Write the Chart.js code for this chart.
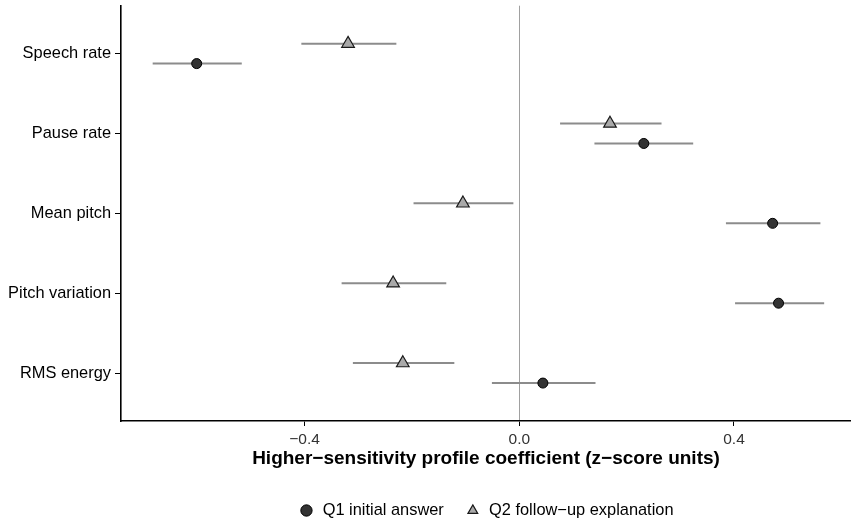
<!DOCTYPE html>
<html>
<head>
<meta charset="utf-8">
<script src="https://cdn.jsdelivr.net/npm/chart.js@4.4.0/dist/chart.umd.min.js"></script>
<style>
  html, body { margin: 0; padding: 0; background: #fff; }
</style>
</head>
<body>
<canvas id="chart" width="851" height="519"></canvas>
<script>
// Categories top to bottom
const categories = ['Speech rate', 'Pause rate', 'Mean pitch', 'Pitch variation', 'RMS energy'];

// Q1 initial answer: estimate and interval
const q1Est = [-0.601, 0.232, 0.472, 0.483, 0.044];
const q1Lo  = [-0.683, 0.140, 0.385, 0.402, -0.051];
const q1Hi  = [-0.517, 0.324, 0.561, 0.568, 0.142];

// Q2 follow-up explanation: estimate and interval
const q2Est = [-0.319, 0.169, -0.105, -0.235, -0.217];
const q2Lo  = [-0.406, 0.076, -0.197, -0.331, -0.310];
const q2Hi  = [-0.229, 0.265, -0.011, -0.136, -0.121];

const xTicks = [-0.4, 0, 0.4];

const FONT = "'Liberation Sans', Arial, sans-serif";
const DODGE = 0.125;
const LEGEND_HEIGHT = 37.7;

// horizontal interval lines, drawn under the points
const errorBars = {
    id: 'errorBars',
    beforeDatasetsDraw: function(chart) {
        const ctx = chart.ctx;
        const x = chart.scales.x;
        const y = chart.scales.y;
        ctx.save();
        ctx.strokeStyle = '#8c8c8c';
        ctx.lineWidth = 2;
        chart.data.datasets.forEach(function(ds) {
            ds.lo.forEach(function(lo, i) {
                const py = y.getPixelForValue(ds.data[i].y);
                ctx.beginPath();
                ctx.moveTo(x.getPixelForValue(lo), py);
                ctx.lineTo(x.getPixelForValue(ds.hi[i]), py);
                ctx.stroke();
            });
        });
        ctx.restore();
    }
};

// keep the legend box to a fixed height so the spacing below the title matches
const legendHeight = {
    id: 'legendHeight',
    beforeLayout: function(chart) {
        const legend = chart.legend;
        if (!legend || legend._fixedFit) return;
        const fit = legend.fit;
        legend.fit = function() {
            fit.call(this);
            this.height = LEGEND_HEIGHT;
        };
        legend._fixedFit = true;
    }
};

function points(est, offset) {
    return est.map(function(v, i) { return { x: v, y: i + 1 + offset }; });
}

function fmtTick(v) {
    if (v === 0) return '0.0';
    return (v < 0 ? '\u2212' : '') + Math.abs(v).toFixed(1);
}

new Chart(document.getElementById('chart').getContext('2d'), {
    type: 'scatter',
    data: {
        datasets: [
            {
                label: 'Q1 initial answer',
                data: points(q1Est, DODGE),
                lo: q1Lo, hi: q1Hi,
                pointStyle: 'circle',
                pointRadius: 5,
                pointBackgroundColor: '#333333',
                pointBorderColor: '#000000',
                pointBorderWidth: 1,
                backgroundColor: '#333333',
                borderColor: '#000000'
            },
            {
                label: 'Q2 follow\u2212up explanation',
                data: points(q2Est, -DODGE),
                lo: q2Lo, hi: q2Hi,
                pointStyle: 'triangle',
                pointRadius: 7.3,
                pointBackgroundColor: '#a9a9a9',
                pointBorderColor: '#1a1a1a',
                pointBorderWidth: 1.2,
                backgroundColor: '#a9a9a9',
                borderColor: '#1a1a1a'
            }
        ]
    },
    options: {
        responsive: false,
        animation: false,
        layout: { autoPadding: false, padding: { top: 5.7, right: 0, left: 0, bottom: 0 } },
        plugins: {
            tooltip: { enabled: false },
            legend: {
                position: 'bottom',
                fullSize: false,
                labels: {
                    usePointStyle: true,
                    color: '#000',
                    font: { family: FONT, size: 16.4 },
                    boxWidth: 16,
                    boxHeight: 8,
                    padding: 21
                }
            }
        },
        scales: {
            x: {
                type: 'linear',
                min: -0.742,
                max: 0.618,
                afterBuildTicks: function(scale) {
                    scale.ticks = xTicks.map(function(v) { return { value: v }; });
                },
                afterFit: function(scale) {
                    scale.height = 60.3;
                    scale.paddingLeft = 0;
                    scale.paddingRight = 0;
                },
                ticks: {
                    color: '#333',
                    font: { family: FONT, size: 15.5 },
                    padding: 4,
                    maxRotation: 0,
                    callback: function(v) { return fmtTick(v); }
                },
                grid: {
                    drawOnChartArea: true,
                    color: function(c) { return c.tick && c.tick.value === 0 ? '#a0a0a0' : 'rgba(0,0,0,0)'; },
                    lineWidth: 1,
                    tickColor: '#000',
                    tickLength: 5
                },
                border: { display: true, color: '#000', width: 1.6 },
                title: {
                    display: true,
                    text: 'Higher\u2212sensitivity profile coefficient (z\u2212score units)',
                    color: '#000',
                    font: { family: FONT, size: 19, weight: 'bold' },
                    padding: { top: 0, bottom: 11.5 }
                }
            },
            y: {
                type: 'linear',
                reverse: true,
                min: 0.4,
                max: 5.6,
                afterBuildTicks: function(scale) {
                    scale.ticks = categories.map(function(c, i) { return { value: i + 1 }; });
                },
                afterFit: function(scale) {
                    scale.width = 121;
                    scale.paddingTop = 0;
                    scale.paddingBottom = 0;
                },
                ticks: {
                    color: '#000',
                    font: { family: FONT, size: 16.4 },
                    padding: 4,
                    callback: function(v) { return categories[Math.round(v) - 1]; }
                },
                grid: {
                    drawOnChartArea: false,
                    tickColor: '#000',
                    tickLength: 6
                },
                border: { display: true, color: '#000', width: 1.6 }
            }
        }
    },
    plugins: [errorBars, legendHeight]
});
</script>
</body>
</html>
